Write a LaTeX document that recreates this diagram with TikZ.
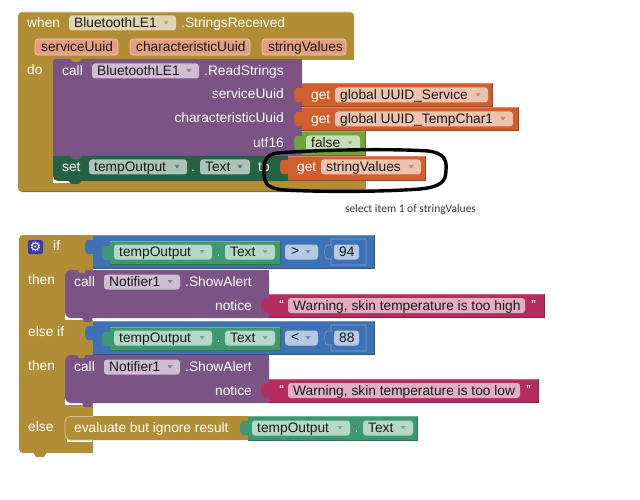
\documentclass[tikz,border=0pt]{standalone}
\usepackage{fontspec}
\setmainfont{Liberation Sans}
\newfontfamily\notefont{Carlito}
\newfontfamily\gearfont{DejaVu Sans}

\definecolor{ctlgold}{HTML}{B18E35}
\definecolor{procpurple}{HTML}{7C5385}
\definecolor{getorange}{HTML}{D05F2D}
\definecolor{setgreen}{HTML}{266145}
\definecolor{compgreen}{HTML}{3F9970}
\definecolor{boolgreen}{HTML}{6CA63B}
\definecolor{mathblue}{HTML}{3F71B5}
\definecolor{textred}{HTML}{B32D5E}
\definecolor{gearblue}{HTML}{3A3AA8}

\tikzset{
    lbl/.style={inner sep=0pt, text=white, font=\fontsize{13.75}{16}\selectfont,
        text height=11pt, text depth=1.5pt},
    fldtext/.style={lbl, anchor=west, text=black!90},
    edge/.style={line width=0.8pt}
}

% block body: x1 y1 x2 y2 colour, with a lighter top edge and a darker bottom edge
\newcommand{\Blk}[5]{
    \fill[#5] (#1,#2) rectangle (#3,#4);
    \draw[edge,#5!75!white] (#1,#2+0.4) -- (#3,#2+0.4);
    \draw[edge,#5!75!black] (#1,#4-0.4) -- (#3-0.4,#4-0.4) -- (#3-0.4,#2);
}
% puzzle tab sticking out to the left of x
\newcommand{\Tab}[3]{
    \fill[#3] (#1+0.5,#2-7) -- (#1-5,#2-7) .. controls (#1-9,#2-7) and (#1-9,#2+7) .. (#1-5,#2+7) -- (#1+0.5,#2+7) -- cycle;
}
% name x1 x2 yc colour text
\newcommand{\Fld}[6]{
    \fill[rounded corners=3pt,#5!38!white] (#2,#4-7.5) rectangle (#3,#4+7.5);
    \fill[#5!80!white] (#3-12.5,#4-2) -- (#3-7.5,#4-2) -- (#3-10,#4+1.5) -- cycle;
    \node[fldtext] (#1) at (#2+5,#4) {#6};
}
% same field, no dropdown
\newcommand{\Lit}[6]{
    \fill[rounded corners=3pt,#5!38!white] (#2,#4-7.5) rectangle (#3,#4+7.5);
    \node[fldtext] (#1) at (#2+5,#4) {#6};
}

\begin{document}
\begin{tikzpicture}[x=1pt,y=-1pt]
    \useasboundingbox[fill=white] (0,0) rectangle (640,500);

    % ---- first event block
    \fill[ctlgold,rounded corners=4pt] (18,12) -- (354,12) -- (354,59) -- (53,59) -- (53,181) -- (366,181) -- (366,192) -- (18,192) -- cycle;
    \fill[ctlgold] (60,50) rectangle (354,60);
    \fill[ctlgold] (53,59) rectangle (60,70);
    \fill[ctlgold] (53,170) rectangle (60,182);
    \fill[ctlgold] (353,181) rectangle (366,192);
    \draw[edge,ctlgold!70!white] (22,12.4) -- (350,12.4);
    \draw[edge,ctlgold!75!black] (366,191.6) -- (22,191.6);
    \fill[white] (53,170) rectangle (72,182.5);

    \node[lbl,anchor=west] (whenlbl) at (27,23) {when};
    \Fld{bleone}{69}{176}{23}{ctlgold}{BluetoothLE1}
    \node[lbl,anchor=west] (strrecv) at (181,23) {.StringsReceived};
    \foreach \nm/\xa/\xb/\lab in {pa/35/118/serviceUuid,pb/130/250/characteristicUuid,pc/262/346/stringValues}{
        \fill[rounded corners=3pt,getorange!60!white] (\xa,39) rectangle (\xb,55);
        \draw[rounded corners=3pt,getorange!30!white,line width=0.6pt] (\xa,39) rectangle (\xb,55);
        \node[fldtext] (\nm) at (\xa+6,47) {\lab};
    }
    \node[lbl,anchor=west] (dolbl) at (27,70) {do};

    % ---- ReadStrings call
    \fill[procpurple,rounded corners=3pt] (53,59) -- (302,59) -- (302,160) -- (53,160) -- cycle;
    \fill[procpurple] (295,59) rectangle (302,160);
    \fill[ctlgold] (70,58) -- (82,58) -- (79,62) -- (73,62) -- cycle;
    \node[lbl,anchor=west] (calla) at (62,71) {call};
    \Fld{bletwo}{92}{199}{71}{procpurple}{BluetoothLE1}
    \node[lbl,anchor=west] (readstr) at (204,71) {.ReadStrings};
    \node[lbl,anchor=east] (argone) at (284,94) {serviceUuid};
    \node[lbl,anchor=east] (argtwo) at (284,118) {characteristicUuid};
    \node[lbl,anchor=east] (argthree) at (284,143) {utf16};

    \Blk{302}{83}{493}{107}{getorange}
    \Tab{302}{95}{getorange}
    \node[lbl,anchor=west] (geta) at (311,95) {get};
    \Fld{service}{335}{488}{95}{getorange}{global UUID\_Service}
    \Blk{302}{107}{519}{131}{getorange}
    \Tab{302}{119}{getorange}
    \node[lbl,anchor=west] (getb) at (311,119) {get};
    \Fld{tempchar}{335}{513}{119}{getorange}{global UUID\_TempChar1}
    \Blk{302}{131}{366}{156}{boolgreen}
    \Tab{302}{143}{boolgreen}
    \Fld{falseval}{306}{360}{143}{boolgreen}{false}

    % ---- set tempOutput
    \fill[setgreen,rounded corners=5pt] (53,156) -- (288,156) -- (288,181) -- (53,181) -- cycle;
    \fill[setgreen] (280,156) rectangle (288,181);
    \fill[setgreen] (53,156) rectangle (60,165);
    \fill[setgreen] (68,180) -- (82,180) -- (79,184) -- (71,184) -- cycle;
    \fill[procpurple] (70,155.5) -- (82,155.5) -- (79,159) -- (73,159) -- cycle;
    \node[lbl,anchor=west] (setlbl) at (62,167) {set};
    \Fld{tempa}{89}{187}{167}{setgreen}{tempOutput}
    \node[lbl] (dota) at (193,167) {.};
    \Fld{texta}{200}{250}{167}{setgreen}{Text}
    \node[lbl,anchor=west] (tolbl) at (258,167) {to};
    \Blk{288}{156}{426}{181}{getorange}
    \Tab{288}{167}{getorange}
    \node[lbl,anchor=west] (getc) at (297,167) {get};
    \Fld{strvals}{321}{421}{167}{getorange}{stringValues}

    % hand drawn loop round the getter
    \draw[black,line width=3.4pt,line cap=round] (277,153) .. controls (330,149) and (400,149) .. (428,151)
        .. controls (444,153) and (447,160) .. (446,170) .. controls (446,182) and (440,187) .. (420,189)
        .. controls (380,192) and (320,192) .. (285,190) .. controls (268,189) and (264,184) .. (264,172)
        .. controls (264,160) and (266,155) .. (277,153);

    \node[inner sep=0pt,text=black!80,font=\notefont\fontsize{11.5}{13}\selectfont] (selnote) at (410.5,209) {select item 1 of stringValues};

    % ---- if / else if / else
    \fill[ctlgold,rounded corners=4pt] (19,235) -- (93,235) -- (93,270) -- (65,270) -- (65,320) -- (93,320) -- (93,355) -- (65,355) -- (65,403) -- (93,403) -- (93,453) -- (19,453) -- cycle;
    \fill[ctlgold] (70,235) rectangle (93,260);
    \fill[ctlgold] (70,320) rectangle (93,355);
    \fill[ctlgold] (70,403) rectangle (93,453);
    \fill[ctlgold] (65,260) rectangle (93,280);
    \fill[ctlgold] (65,345) rectangle (93,365);
    \fill[ctlgold] (33,452) -- (47,452) -- (44,457) -- (36,457) -- cycle;
    \fill[gearblue,rounded corners=2pt] (28,240) rectangle (43,254);
    \node[inner sep=0pt,text=white,font=\gearfont\fontsize{13}{13}\selectfont] (gear) at (35.5,247) {⚙};
    \node[lbl,anchor=west] (iflbl) at (53,246) {if};
    \node[lbl,anchor=west] (thena) at (28,280) {then};
    \node[lbl,anchor=west] (elseif) at (28,332) {else if};
    \node[lbl,anchor=west] (thenb) at (28,366) {then};
    \node[lbl,anchor=west] (elselbl) at (28,427) {else};

    % comparison rows
    \foreach \rw/\yc/\op/\val in {a/252/>/94,b/338/</88}{
        \Blk{93}{\yc-17}{375}{\yc+17}{mathblue}
        \Tab{93}{\yc-5}{mathblue}
        \Blk{110}{\yc-11}{281}{\yc+13}{compgreen}
        \Tab{110}{\yc+1}{compgreen}
        \Fld{temp\rw}{114}{212}{\yc}{compgreen}{tempOutput}
        \node[lbl] (dot\rw) at (218.5,\yc) {.};
        \Fld{txt\rw}{225}{275}{\yc}{compgreen}{Text}
        \fill[rounded corners=3pt,mathblue!38!white] (285,\yc-7.5) rectangle (318,\yc+7.5);
        \fill[mathblue!80!white] (305.5,\yc-2) -- (310.5,\yc-2) -- (308,\yc+1.5) -- cycle;
        \node[fldtext] (op\rw) at (291,\yc-1) {\op};
        \draw[mathblue!65!white,line width=0.6pt] (366,\yc-13) -- (331,\yc-13) -- (331,\yc-7) -- (327,\yc-7)
            .. controls (324,\yc-7) and (324,\yc+7) .. (327,\yc+7) -- (331,\yc+7) -- (331,\yc+13) -- (366,\yc+13) -- cycle;
        \Lit{num\rw}{334}{359}{\yc}{mathblue}{\val}
    }

    % ShowAlert calls
    \foreach \rw/\yc/\xr/\xf/\msg in {a/270/545/525/high,b/355/539/520/low}{
        \fill[white] (65,\yc+38) rectangle (85,\yc+50);
        \fill[procpurple,rounded corners=6pt] (65,\yc) -- (269,\yc) -- (269,\yc+48) -- (65,\yc+48) -- cycle;
        \fill[procpurple] (260,\yc) rectangle (269,\yc+48);
        \fill[procpurple] (65,\yc+5) rectangle (75,\yc+20);
        \fill[ctlgold] (77,\yc-1) -- (86,\yc-1) -- (84,\yc+3) -- (79,\yc+3) -- cycle;
        \fill[procpurple] (82,\yc+47.5) -- (93,\yc+47.5) -- (91,\yc+52) -- (84,\yc+52) -- cycle;
        \node[lbl,anchor=west] (call\rw) at (74,\yc+12) {call};
        \Fld{note\rw}{104}{180}{\yc+12}{procpurple}{Notifier1}
        \node[lbl,anchor=west] (alert\rw) at (185,\yc+12) {.ShowAlert};
        \node[lbl,anchor=east] (notice\rw) at (252,\yc+35.5) {notice};
        \Blk{269}{\yc+23.5}{\xr}{\yc+48}{textred}
        \Tab{269}{\yc+35.5}{textred}
        \node[lbl,font=\bfseries\fontsize{10}{12}\selectfont] (qla\rw) at (281.5,\yc+33) {“};
        \Lit{warn\rw}{288}{\xf}{\yc+35.5}{textred}{Warning, skin temperature is too \msg}
        \node[lbl,font=\bfseries\fontsize{10}{12}\selectfont] (qlb\rw) at (\xf+8.5,\yc+33) {”};
    }

    % evaluate but ignore
    \fill[white] (67,432) rectangle (92,442);
    \fill[ctlgold,rounded corners=6pt] (65,416) -- (248,416) -- (248,440) -- (65,440) -- cycle;
    \fill[ctlgold] (240,416) rectangle (248,440);
    \draw[edge,ctlgold!55!white,rounded corners=6pt] (93,416.4) -- (65,416.4) -- (65,440) -- (93,440);
    \node[lbl,anchor=west] (evaltxt) at (74,428) {evaluate but ignore result};
    \Blk{248}{416}{418}{441}{compgreen}
    \Tab{248}{428}{compgreen}
    \Fld{tempc}{252}{350}{428}{compgreen}{tempOutput}
    \node[lbl] (dotc) at (356.5,428) {.};
    \Fld{txtc}{363}{413}{428}{compgreen}{Text}
\end{tikzpicture}
\end{document}
